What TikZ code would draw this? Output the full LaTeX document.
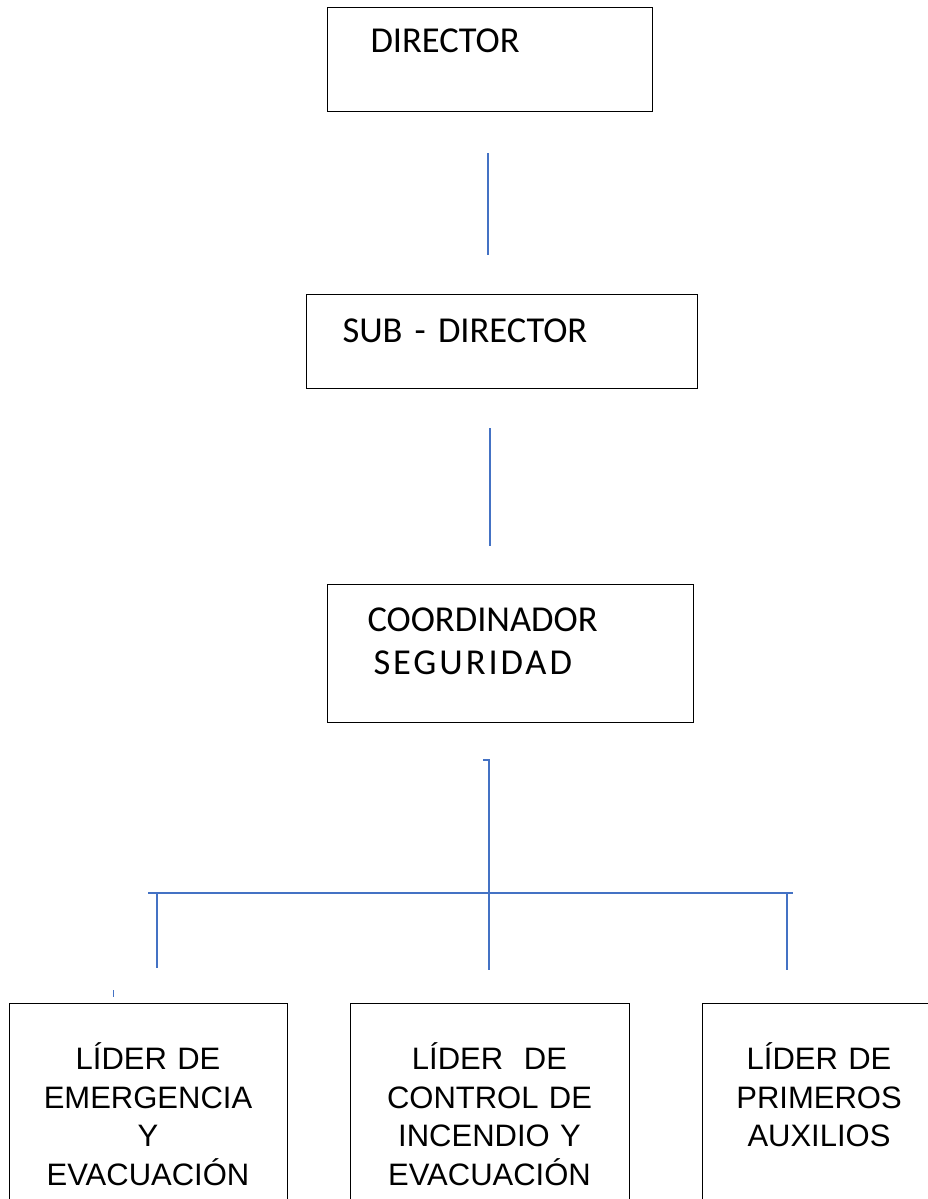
\documentclass[tikz,border=0pt]{standalone}
\usepackage{fontspec}
\setmainfont{Carlito}
\newfontfamily\arialfont{Liberation Sans}
\usepackage{xcolor}
\usepackage{tikz}
\usetikzlibrary{positioning}
\definecolor{linkblue}{HTML}{4472C4}

\begin{document}
\begin{tikzpicture}[
    x = 1pt,
    y = -1pt,
    topf/.style = {
      rectangle,
      draw=black,
      line width=1pt,
      anchor=north west,
      align=left,
      inner ysep=0pt,
      font=\fontsize{36.5}{43}\selectfont
    },
    leadf/.style = {
      rectangle,
      draw=black,
      line width=1pt,
      anchor=north,
      align=center,
      inner sep=0pt,
      text height=66pt,
      text depth=134pt,
      font=\arialfont\fontsize{31}{38.5}\selectfont
    },
    linka/.style = {
      draw=linkblue,
      line width=1.3pt
    }
  ]
    \useasboundingbox (0,0) rectangle (928,1199);
    \clip (0,0) rectangle (928,1199);

    \node[topf, text width=239pt, inner xsep=43pt, text height=45pt, text depth=59pt] (dir) at (327,7) {DIRECTOR};
    \node[topf, text width=319pt, inner xsep=36pt, text height=48pt, text depth=46pt] (sub) at (306,294) {SUB - DIRECTOR};
    \node[topf, text width=286pt, inner xsep=40pt, text height=47pt, text depth=91pt] (coord) at (327,584) {COORDINADOR\\\hspace*{6pt}{\addfontfeature{LetterSpace=8}SEGURIDAD}};

    \node[leadf, text width=278pt] (lead1) at (148,1003) {LÍDER DE\\EMERGENCIA\\Y\\EVACUACIÓN};
    \node[leadf, text width=279pt] (lead2) [right=62 of lead1] {LÍDER\ \ DE\\CONTROL DE\\INCENDIO Y\\EVACUACIÓN};
    \node[leadf, text width=234pt] (lead3) [right=72 of lead2] {LÍDER DE\\PRIMEROS\\AUXILIOS};

    \coordinate (d1) at (488,153);
    \coordinate (d2) at (488,255);
    \coordinate (s1) at (490,428);
    \coordinate (s2) at (490,546);
    \coordinate (hook) at (483,760);
    \coordinate (mid) at (489,970);
    \coordinate (busl) at (148,893);
    \coordinate (busr) at (793,893);
    \coordinate (dropl) at (157,968);
    \coordinate (dropr) at (787,970);
    \coordinate (tick) at (113,990);

    \draw[linka] (d1) -- (d2);
    \draw[linka] (s1) -- (s2);
    \draw[linka] (hook) -- (mid |- hook) -- (mid);
    \draw[linka] (busl) -- (busr);
    \draw[linka] (dropl |- busl) -- (dropl);
    \draw[linka] (dropr |- busr) -- (dropr);
    \draw[linka, line width=1pt] (tick) -- ++(0,7);

  \end{tikzpicture}
\end{document}
